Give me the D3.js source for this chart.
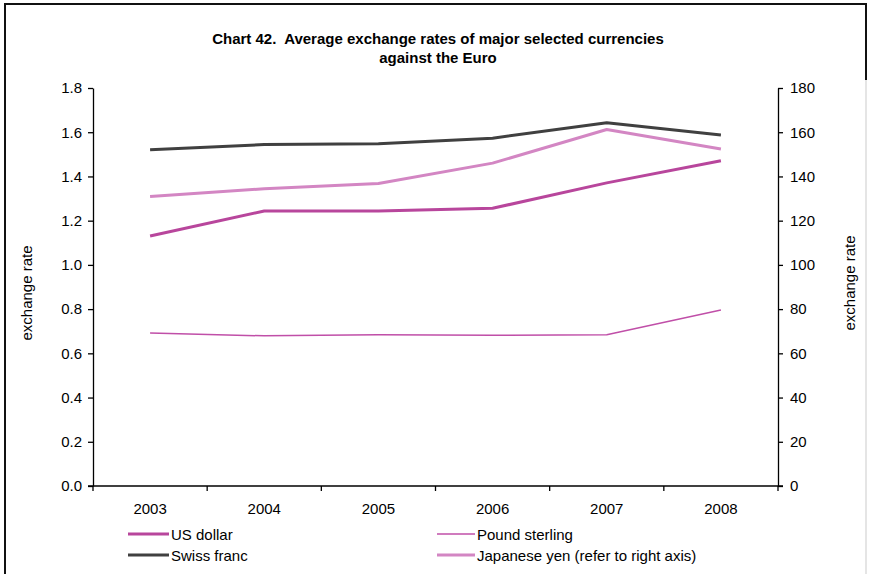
<!DOCTYPE html>
<html><head><meta charset="utf-8">
<script src="https://cdn.jsdelivr.net/npm/d3@7"></script>
<style>body{margin:0;background:#fff}svg{display:block}text{font-family:"Liberation Sans",Arial,sans-serif;fill:#000}</style>
</head><body>
<svg id="c" width="870" height="574"></svg>
<script>
const years = ["2003","2004","2005","2006","2007","2008"];
const usDollar = [1.131, 1.244, 1.244, 1.256, 1.371, 1.471];
const poundSterling = [0.692, 0.679, 0.684, 0.682, 0.684, 0.796];
const swissFranc = [1.521, 1.544, 1.548, 1.573, 1.643, 1.587];
const japaneseYen = [130.97, 134.44, 136.85, 146.02, 161.25, 152.45];
const leftTicks = [0,0.2,0.4,0.6,0.8,1.0,1.2,1.4,1.6,1.8];
const rightTicks = [0,20,40,60,80,100,120,140,160,180];

const svg = d3.select("#c");
const L = 93, R = 778, T = 88, B = 486;
const FONT = "Liberation Sans, Arial, sans-serif";

// border
svg.append("line").attr("x1",5).attr("x2",5).attr("y1",3).attr("y2",574).attr("stroke","#111").attr("stroke-width",2);
svg.append("line").attr("x1",4).attr("x2",867).attr("y1",4).attr("y2",4).attr("stroke","#111").attr("stroke-width",2);
svg.append("line").attr("x1",866).attr("x2",866).attr("y1",3).attr("y2",574).attr("stroke","#ddd").attr("stroke-width",1.5);
svg.append("line").attr("x1",866).attr("x2",866).attr("y1",3).attr("y2",80).attr("stroke","#111").attr("stroke-width",2);

// title
const title = svg.append("text").attr("text-anchor","middle").attr("font-weight","bold").attr("font-size",15).attr("xml:space","preserve").style("white-space","pre");
title.append("tspan").attr("x",438).attr("y",44).text("Chart 42.  Average exchange rates of major selected currencies");
title.append("tspan").attr("x",438).attr("y",63).text("against the Euro");

const x = d3.scaleBand().domain(years).range([L,R]);
const yL = d3.scaleLinear().domain([0,1.8]).range([B,T]);
const yR = d3.scaleLinear().domain([0,180]).range([B,T]);

// left axis
const gl = svg.append("g").attr("transform",`translate(${L},0)`)
  .call(d3.axisLeft(yL).tickValues(leftTicks).tickFormat(d3.format(".1f")).tickSize(5).tickSizeOuter(0).tickPadding(6));
gl.selectAll("text").attr("font-size",15).style("font-family",FONT);
gl.select(".domain").attr("stroke-width",1.3);
gl.selectAll(".tick line").attr("stroke-width",1.3);

const gr = svg.append("g").attr("transform",`translate(${R},0)`)
  .call(d3.axisRight(yR).tickValues(rightTicks).tickSize(5).tickSizeOuter(0).tickPadding(7));
gr.selectAll("text").attr("font-size",15).style("font-family",FONT);
gr.select(".domain").attr("stroke-width",1.3);
gr.selectAll(".tick line").attr("stroke-width",1.3);

// bottom axis line
const gb = svg.append("g").attr("transform",`translate(0,${B})`)
  .call(d3.axisBottom(x).tickSize(0).tickPadding(17));
gb.selectAll("text").attr("font-size",15).style("font-family",FONT);
gb.select(".domain").attr("stroke-width",1.3).attr("d",`M${L-5},0H${R+5}`);
// category boundary ticks
const bounds = years.map(y => x(y)).concat([R]);
svg.append("g").selectAll("line").data(bounds).join("line")
  .attr("x1",d=>d).attr("x2",d=>d).attr("y1",B).attr("y2",B+5).attr("stroke","#000").attr("stroke-width",1.3);

// axis titles
svg.append("text").attr("transform","translate(32,293) rotate(-90)").attr("text-anchor","middle").attr("font-size",15).text("exchange rate");
svg.append("text").attr("transform","translate(855,283) rotate(-90)").attr("text-anchor","middle").attr("font-size",15).text("exchange rate");

const cx = d => x(d) + x.bandwidth()/2;
const series = [
  {name:"Pound sterling", vals:poundSterling, scale:yL, color:"#c04fa8", w:1.5},
  {name:"Japanese yen (refer to right axis)", vals:japaneseYen, scale:yR, color:"#d386c3", w:3},
  {name:"Swiss franc", vals:swissFranc, scale:yL, color:"#404040", w:3},
  {name:"US dollar", vals:usDollar, scale:yL, color:"#b8469c", w:3},
];
series.forEach(s => {
  const line = d3.line().x((d,i)=>cx(years[i])).y(d=>s.scale(d));
  svg.append("path").attr("d",line(s.vals)).attr("fill","none").attr("stroke",s.color).attr("stroke-width",s.w).attr("stroke-linejoin","round");
});

// legend
const legend = [
  {s:series[3], x:128, x2:169, y:534},
  {s:series[0], x:437, x2:475, y:534},
  {s:series[2], x:128, x2:169, y:555},
  {s:series[1], x:437, x2:475, y:555},
];
legend.forEach(l => {
  svg.append("line").attr("x1",l.x).attr("x2",l.x2).attr("y1",l.y).attr("y2",l.y).attr("stroke",l.s.color).attr("stroke-width",l.s.w);
  svg.append("text").attr("x",l.x2+2).attr("y",l.y+5.5).attr("font-size",15).text(l.s.name);
});
</script>
</body></html>
